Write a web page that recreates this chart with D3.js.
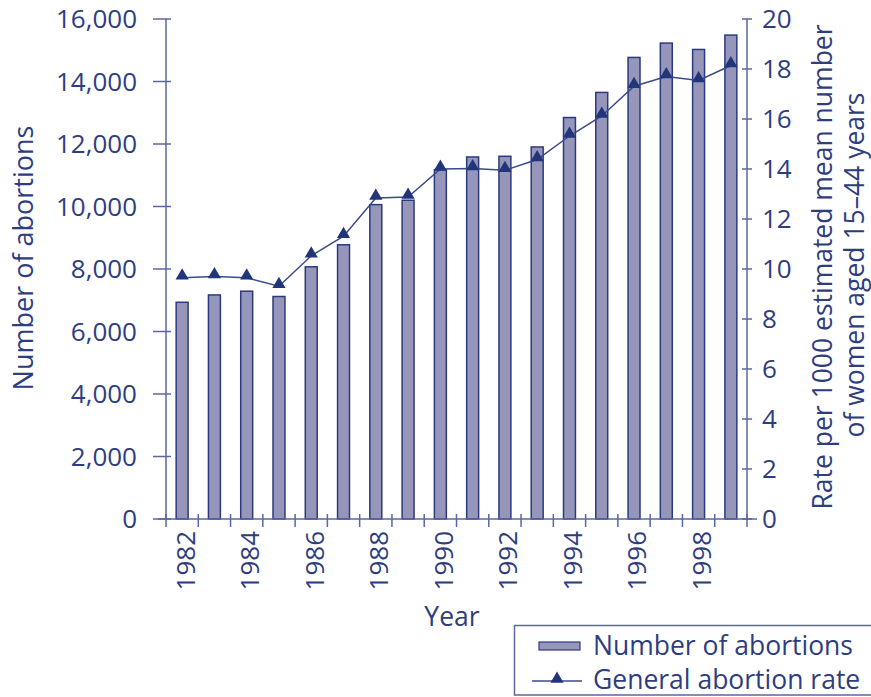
<!DOCTYPE html>
<html><head><meta charset="utf-8">
<script src="https://cdn.jsdelivr.net/npm/d3@7"></script>
<style>body{margin:0;background:#fff}svg{display:block}text{font-family:"Open Sans",sans-serif;fill:#2E3D80}</style>
</head><body><svg id="c" width="871" height="697"></svg>
<script>
const years = [1982,1983,1984,1985,1986,1987,1988,1989,1990,1991,1992,1993,1994,1995,1996,1997,1998,1999];
const abortions = [6935,7170,7290,7120,8070,8775,10060,10200,11180,11585,11607,11905,12847,13650,14770,15230,15025,15485];
const rate = [9.65,9.7,9.65,9.31,10.53,11.31,12.84,12.88,14.0,14.02,13.95,14.38,15.32,16.12,17.31,17.7,17.54,18.14];
const leftTicks = [0,2000,4000,6000,8000,10000,12000,14000,16000];
const rightTicks = [0,2,4,6,8,10,12,14,16,18,20];
const yearLabels = [1982,1984,1986,1988,1990,1992,1994,1996,1998];

const svg = d3.select("#c");
const X0=166, X1=747, Y0=519, Y1=19;
const axisCol="#5B67A0", barFill="#9596BA", barStroke="#2B3A80", mk="#22357A";

const x = d3.scaleBand().domain(years).range([X0,X1]).paddingInner(0.63).paddingOuter(0.315);
const xb = d3.scaleBand().domain(years).range([X0,X1]);
const yL = d3.scaleLinear().domain([0,16000]).range([Y0,Y1]);
const yR = d3.scaleLinear().domain([0,20]).range([Y0,Y1]);

// bars
svg.append("g").selectAll("rect").data(years).join("rect")
  .attr("x",d=>x(d)).attr("width",x.bandwidth())
  .attr("y",(d,i)=>yL(abortions[i])).attr("height",(d,i)=>Y0-yL(abortions[i]))
  .attr("fill",barFill).attr("stroke",barStroke).attr("stroke-width",1.5);

// left axis
const gl = svg.append("g");
gl.append("line").attr("x1",X0).attr("x2",X0).attr("y1",Y1).attr("y2",Y0).attr("stroke",axisCol).attr("stroke-width",1.5);
gl.selectAll("line.t").data(leftTicks).join("line").attr("class","t")
  .attr("x1",X0-13).attr("x2",X0+5).attr("y1",d=>yL(d)).attr("y2",d=>yL(d)).attr("stroke",axisCol).attr("stroke-width",1.5);
gl.selectAll("text").data(leftTicks).join("text")
  .attr("x",137).attr("y",d=>yL(d)).attr("dy","0.36em").attr("text-anchor","end")
  .attr("font-size",26).text(d=>d3.format(",")(d));

// right axis
const gr = svg.append("g");
gr.append("line").attr("x1",X1).attr("x2",X1).attr("y1",Y1).attr("y2",Y0).attr("stroke",axisCol).attr("stroke-width",1.5);
gr.selectAll("line.t").data(rightTicks).join("line").attr("class","t")
  .attr("x1",X1-5).attr("x2",X1+5).attr("y1",d=>yR(d)).attr("y2",d=>yR(d)).attr("stroke",axisCol).attr("stroke-width",1.5);
gr.selectAll("text").data(rightTicks).join("text")
  .attr("x",762).attr("y",d=>yR(d)).attr("dy","0.36em").attr("text-anchor","start")
  .attr("font-size",26).text(d=>d);

// x axis
const gx = svg.append("g");
gx.append("line").attr("x1",X0-8).attr("x2",X1+10).attr("y1",Y0).attr("y2",Y0).attr("stroke",axisCol).attr("stroke-width",1.5);
const bounds = years.map(d=>xb(d)).concat([X1]);
gx.selectAll("line.t").data(bounds).join("line").attr("class","t")
  .attr("x1",d=>d).attr("x2",d=>d).attr("y1",Y0-5).attr("y2",Y0+8).attr("stroke",axisCol).attr("stroke-width",1.5);
gx.selectAll("text").data(yearLabels).join("text")
  .attr("transform",d=>`translate(${xb(d)+xb.bandwidth()/2+3},531) rotate(-90)`)
  .attr("dy","0.36em").attr("text-anchor","end").attr("font-size",26).text(d=>d);

// line
const line = d3.line().x((d,i)=>x(years[i])+x.bandwidth()/2).y(d=>yR(d));
svg.append("path").datum(rate).attr("d",line).attr("fill","none").attr("stroke","#3A4A8A").attr("stroke-width",1.5);
const tri = d3.symbol().type(d3.symbolTriangle).size(75);
svg.append("g").selectAll("path").data(rate).join("path")
  .attr("transform",(d,i)=>`translate(${x(years[i])+x.bandwidth()/2},${yR(d)-2})`)
  .attr("d",tri).attr("fill",mk);

// axis titles
svg.append("text").attr("transform","translate(33,258) rotate(-90)").attr("text-anchor","middle").attr("font-size",27).text("Number of abortions");
svg.append("text").attr("transform","translate(832,267) rotate(-90)").attr("text-anchor","middle").attr("font-size",26.5).text("Rate per 1000 estimated mean number");
svg.append("text").attr("transform","translate(864,265) rotate(-90)").attr("text-anchor","middle").attr("font-size",26.5).text("of women aged 15–44 years");
svg.append("text").attr("x",452).attr("y",626).attr("text-anchor","middle").attr("font-size",26.5).text("Year");

// legend
const lg = svg.append("g");
lg.append("rect").attr("x",514.5).attr("y",625.5).attr("width",370).attr("height",69.5).attr("fill","none").attr("stroke",axisCol).attr("stroke-width",1.5);
lg.append("rect").attr("x",539).attr("y",642).attr("width",41).attr("height",8).attr("fill",barFill).attr("stroke",barStroke).attr("stroke-width",1.2);
lg.append("text").attr("x",593).attr("y",655).attr("font-size",26.5).text("Number of abortions");
lg.append("line").attr("x1",532).attr("x2",582).attr("y1",681).attr("y2",681).attr("stroke","#3A4A8A").attr("stroke-width",1.5);
lg.append("path").attr("transform","translate(557,679)").attr("d",tri).attr("fill",mk);
lg.append("text").attr("x",593).attr("y",689).attr("font-size",26.5).text("General abortion rate");
</script></body></html>
